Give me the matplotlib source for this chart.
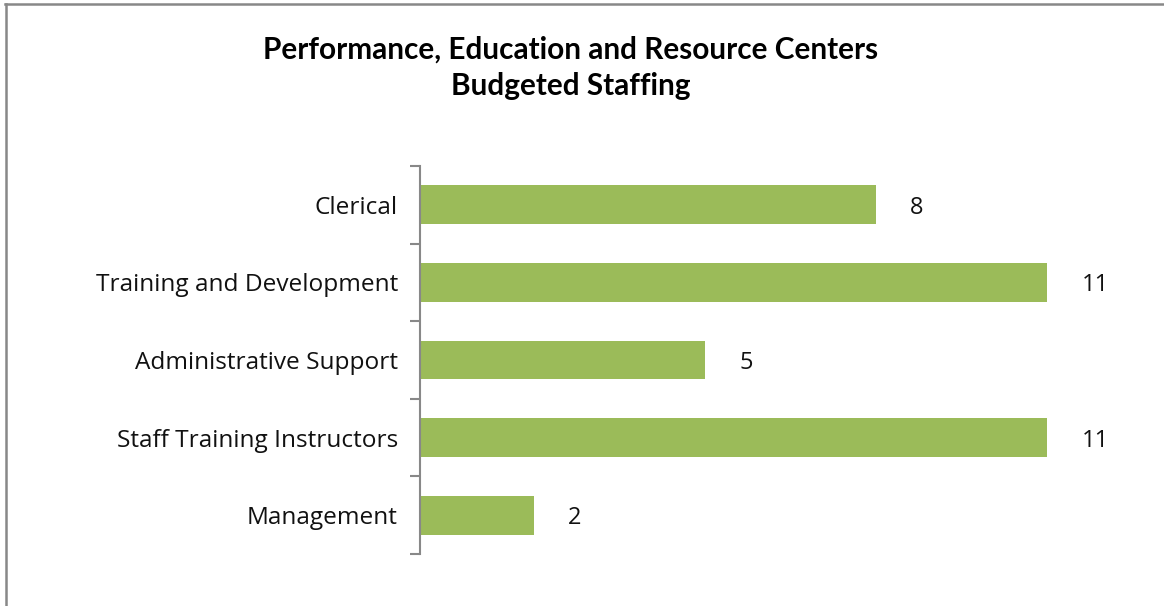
import matplotlib
matplotlib.use("Agg")
import matplotlib.pyplot as plt
from matplotlib.lines import Line2D

categories = ["Clerical", "Training and Development", "Administrative Support",
              "Staff Training Instructors", "Management"]
staff = [8, 11, 5, 11, 2]
title = "Performance, Education and Resource Centers\nBudgeted Staffing"

bar_color = "#9BBB59"
axis_gray = "#888888"

W, H = 1164, 606
fig = plt.figure(figsize=(W / 100, H / 100), dpi=100)
fig.patch.set_facecolor("white")

# chart border (top and left edges of the frame)
fig.add_artist(Line2D([5 / W, 1.0], [1 - 4 / H, 1 - 4 / H], color=axis_gray, lw=1.8,
                      transform=fig.transFigure))
fig.add_artist(Line2D([6 / W, 6 / W], [1 - 4 / H, 0.0], color=axis_gray, lw=1.8,
                      transform=fig.transFigure))

left, right = 420 / W, 1133 / W
bottom, top = 1 - 554 / H, 1 - 166 / H
ax = fig.add_axes([left, bottom, right - left, top - bottom])

ypos = list(range(len(categories)))
ax.barh(ypos, staff, height=0.5, color=bar_color)
ax.set_ylim(len(categories) - 0.5, -0.5)
ax.set_xlim(0, 12.5)

ax.set_yticks(ypos)
ax.set_yticklabels(categories, fontsize=17.6, family="Open Sans", color="#111111")
ax.tick_params(axis="y", which="major", length=0, pad=16)
ax.set_yticks([i - 0.5 for i in range(len(categories) + 1)], minor=True)
ax.tick_params(axis="y", which="minor", length=7, width=1.5, color=axis_gray)
ax.set_xticks([])

for s in ["top", "right", "bottom"]:
    ax.spines[s].set_visible(False)
ax.spines["left"].set_color(axis_gray)
ax.spines["left"].set_linewidth(1.5)

for y, v in zip(ypos, staff):
    ax.annotate(str(v), xy=(v, y), xytext=(34, -3), textcoords="offset pixels",
                ha="left", va="center", fontsize=17, family="Open Sans", color="#111111")

fig.text(571 / W, 1 - 68 / H, title, ha="center", va="center", fontsize=21.4,
         fontweight="bold", family="Lato", linespacing=1.35, color="black")

fig.savefig("out.png", dpi=100)
